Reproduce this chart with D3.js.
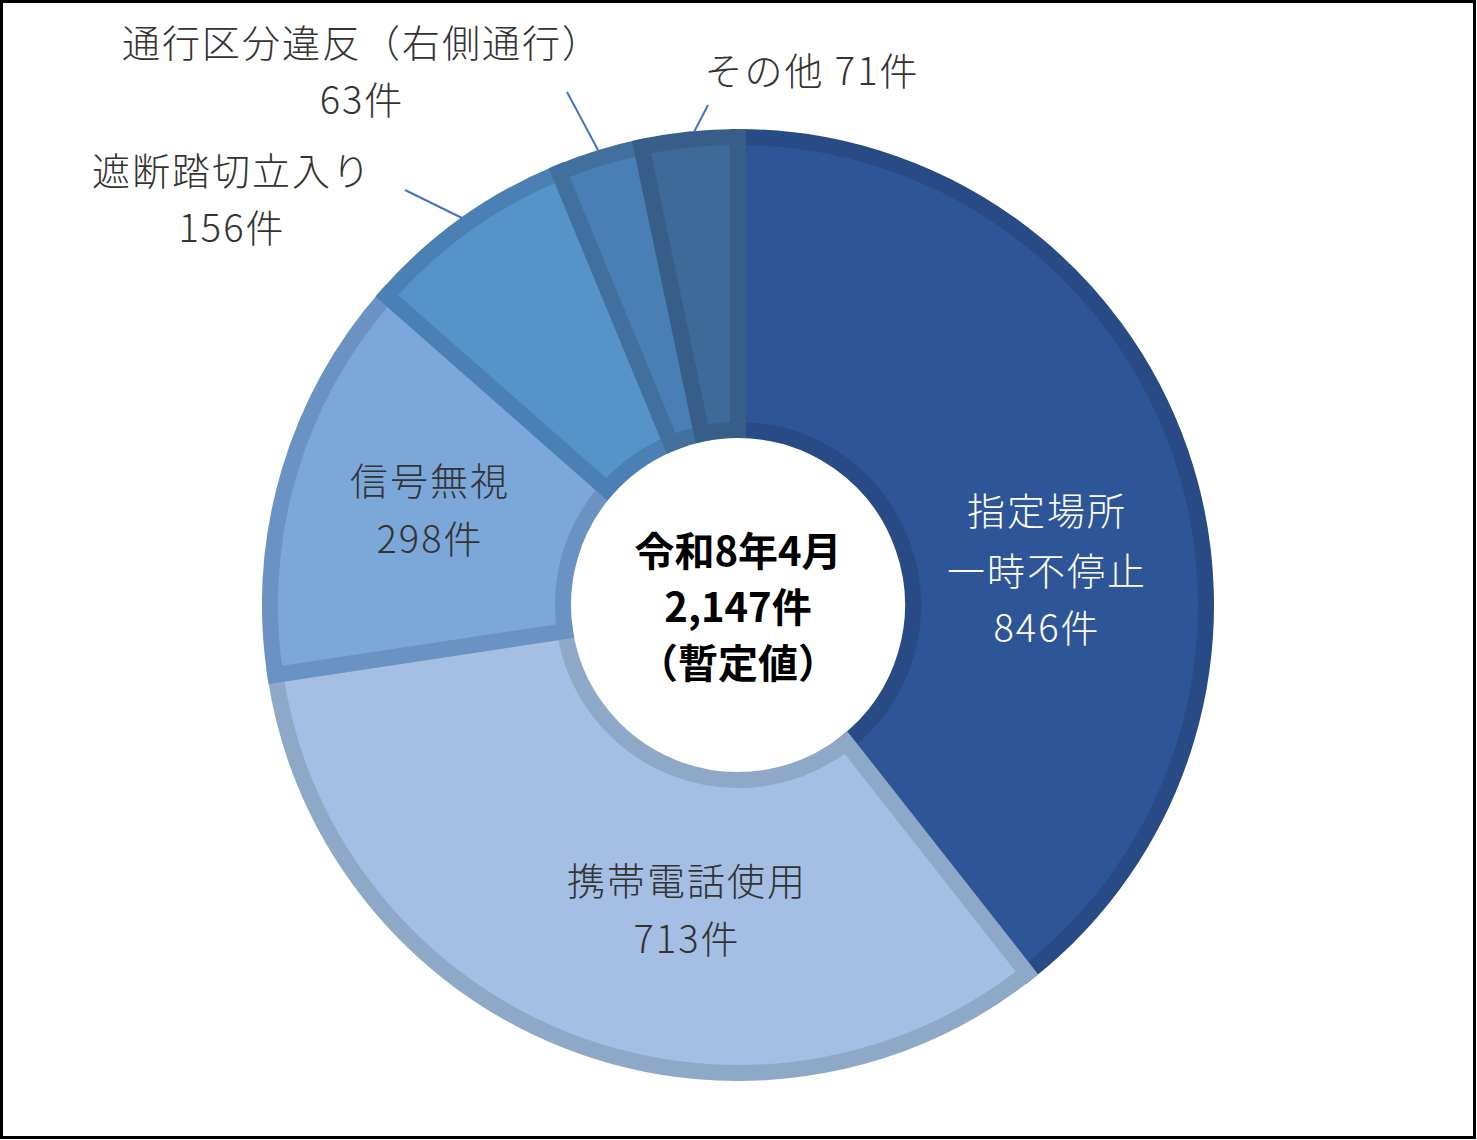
<!DOCTYPE html>
<html><head><meta charset="utf-8">
<script src="https://cdn.jsdelivr.net/npm/d3@7"></script>
<style>body{margin:0;background:#fff}</style>
</head><body>
<svg id="c" width="1477" height="1140"></svg>
<script>
const categories = ["指定場所一時不停止","携帯電話使用","信号無視","遮断踏切立入り","通行区分違反（右側通行）","その他"];
const values = [846, 713, 298, 156, 63, 71];
const fills = ["#2E5597","#A4BFE3","#7BA7D9","#5593C9","#4A7FB5","#3E6A9A"];
const strokes = ["#284A85","#8EA8C8","#6A93C4","#4A80B3","#41709F","#375E88"];
const labelLines = [["指定場所","一時不停止","846件"],["携帯電話使用","713件"],["信号無視","298件"],["遮断踏切立入り","156件"],["通行区分違反（右側通行）","63件"],["その他 71件"]];
const centerLines = ["令和8年4月","2,147件","（暫定値）"];

const svg = d3.select("#c");
const font = "'Noto Sans CJK JP','Noto Sans',sans-serif";
svg.append("rect").attr("x",1.5).attr("y",1.5).attr("width",1473).attr("height",1136).attr("fill","#fff").attr("stroke","#000").attr("stroke-width",3);
const cx=738, cy=605;
const g = svg.append("g").attr("transform",`translate(${cx},${cy})`);
const pie = d3.pie().sort(null).value(d=>d)(values);
const arc = d3.arc().innerRadius(175).outerRadius(468);
g.selectAll("path").data(pie).join("path").attr("d",arc)
 .attr("fill",(d,i)=>fills[i]).attr("stroke",(d,i)=>strokes[i]).attr("stroke-width",16).attr("stroke-linejoin","miter");

const inside = [{i:0,x:1047,y:[515,575,632],c:"#fff"},{i:1,x:687,y:[885,943],c:"#333"},{i:2,x:430,y:[485,543],c:"#333"},
 {i:3,x:232,y:[175,232],c:"#333"},{i:4,x:362,y:[47,104],c:"#333"},{i:5,x:812,y:[75],c:"#333"}];
inside.forEach(o=>{
  labelLines[o.i].forEach((t,k)=>{
    svg.append("text").attr("x",o.x).attr("y",o.y[k]).attr("text-anchor","middle").attr("dominant-baseline","middle")
      .attr("font-family",font).attr("font-size",38).attr("font-weight",300).attr("letter-spacing",2).attr("fill",o.c).text(t);
  });
});
[[405,190,462,218],[567,92,598,150],[708,105,694,132]].forEach(l=>{
  svg.append("line").attr("x1",l[0]).attr("y1",l[1]).attr("x2",l[2]).attr("y2",l[3]).attr("stroke","#4472C4").attr("stroke-width",2);
});
centerLines.forEach((t,k)=>{
  svg.append("text").attr("x",cx).attr("y",555+k*56).attr("text-anchor","middle").attr("dominant-baseline","middle")
    .attr("font-family",font).attr("font-size",40).attr("font-weight",700).attr("fill","#000").text(t);
});
</script>
</body></html>
